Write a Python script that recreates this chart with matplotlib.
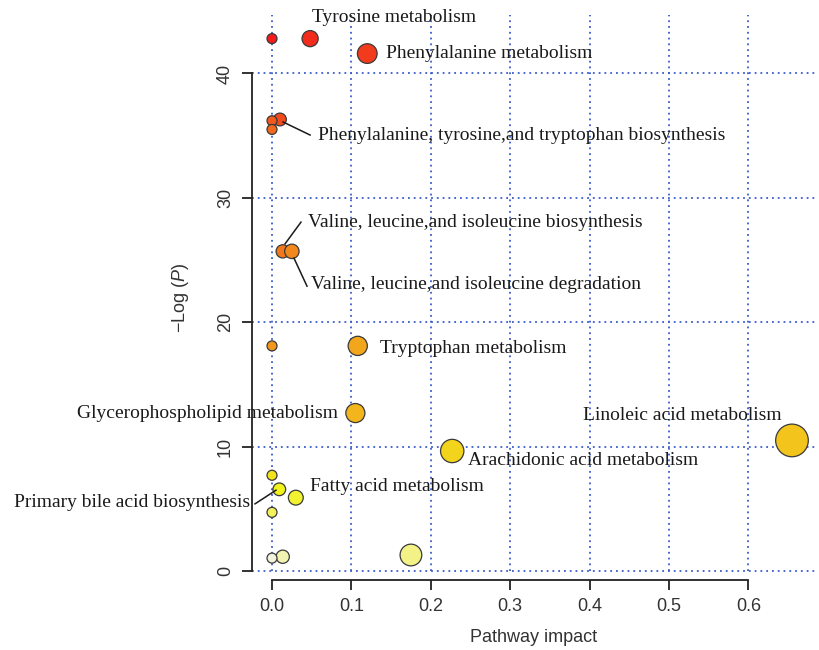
import colorsys

import numpy as np
import matplotlib
matplotlib.use("Agg")
from matplotlib import pyplot as plt

plt.rcParams["font.family"] = ["Liberation Sans", "DejaVu Sans"]
plt.rcParams["mathtext.fontset"] = "custom"
plt.rcParams["mathtext.rm"] = "Liberation Sans"
plt.rcParams["mathtext.it"] = "Liberation Sans:italic"

# pathway impact / -log(p) for every pathway, ordered by p value
impact = [0.0, 0.048, 0.120, 0.010, 0.0, 0.0, 0.0135, 0.025, 0.0, 0.108,
          0.105, 0.655, 0.227, 0.0, 0.0092, 0.030, 0.0, 0.175, 0.0135, 0.0]
neg_log_p = [42.8, 42.8, 41.6, 36.3, 36.2, 35.5, 25.7, 25.7, 18.1, 18.1,
             12.7, 10.5, 9.65, 7.7, 6.57, 5.9, 4.72, 1.29, 1.15, 1.04]
names = ["", "Tyrosine metabolism", "Phenylalanine metabolism",
         "Phenylalanine, tyrosine,and tryptophan biosynthesis", "", "",
         "Valine, leucine,and isoleucine biosynthesis",
         "Valine, leucine,and isoleucine degradation", "",
         "Tryptophan metabolism", "Glycerophospholipid metabolism",
         "Linoleic acid metabolism", "Arachidonic acid metabolism", "",
         "Primary bile acid biosynthesis", "Fatty acid metabolism",
         "", "", "", ""]

x_ticks = [0.0, 0.1, 0.2, 0.3, 0.4, 0.5, 0.6]
y_ticks = [0, 10, 20, 30, 40]

# label placement (data coords): x, y, horizontal alignment
label_pos = {
    "Tyrosine metabolism": (0.050, 44.5, "left"),
    "Phenylalanine metabolism": (0.143, 41.6, "left"),
    "Phenylalanine, tyrosine,and tryptophan biosynthesis": (0.058, 35.0, "left"),
    "Valine, leucine,and isoleucine biosynthesis": (0.045, 28.0, "left"),
    "Valine, leucine,and isoleucine degradation": (0.049, 23.0, "left"),
    "Tryptophan metabolism": (0.136, 17.9, "left"),
    "Glycerophospholipid metabolism": (0.083, 12.7, "right"),
    "Linoleic acid metabolism": (0.642, 12.5, "right"),
    "Arachidonic acid metabolism": (0.247, 8.9, "left"),
    "Fatty acid metabolism": (0.048, 6.8, "left"),
    "Primary bile acid biosynthesis": (-0.028, 5.5, "right"),
}
# leader lines ((x0, y0), (x1, y1))
leaders = [
    ((0.0139, 36.1), (0.048, 35.05)),
    ((0.0164, 26.3), (0.0365, 28.05)),
    ((0.0277, 25.15), (0.0441, 22.9)),
    ((-0.0214, 5.4), (0.005, 6.5)),
]


def heat_colors(n):
    # same scheme as R's heat.colors
    j = n // 4
    i = n - j
    cols = [colorsys.hsv_to_rgb(k / (i - 1) / 6, 1, 1) for k in range(i)]
    for s in np.linspace(1 - 1 / (2 * j), 1 / (2 * j), j):
        cols.append(colorsys.hsv_to_rgb(1 / 6, s, 1))
    return [tuple(0.84 * c + 0.11 for c in col) for col in cols]


order = np.argsort(-np.array(neg_log_p), kind="stable")
palette = heat_colors(len(neg_log_p))
colors = [None] * len(neg_log_p)
for rank, idx in enumerate(order):
    colors[idx] = palette[rank]

radius_px = 5 + 14 * np.sqrt(np.array(impact))
sizes = (2 * radius_px * 0.72) ** 2

fig = plt.figure(figsize=(8.19, 6.5), dpi=100)
ax = fig.add_axes([252 / 819, 70 / 650, 563 / 819, 565 / 650])
ax.set_xlim(-0.0252, 0.684)
ax.set_ylim(-0.72, 44.7)

grid_kw = dict(color="#3a5ccc", lw=1.3, linestyle=(0, (1, 2.2)), zorder=1)
ax.vlines(x_ticks, 0, 44.7, **grid_kw)
ax.hlines(y_ticks, -0.0252, 0.684, **grid_kw)

ax.scatter(impact, neg_log_p, s=sizes, c=colors, edgecolors="#3a3a3a",
           linewidths=0.9, zorder=3)

for name, (tx, ty, ha) in label_pos.items():
    ax.text(tx, ty, name, ha=ha, va="center", fontsize=14,
            family=["Liberation Serif"], color="#1a1a1a", zorder=4,
            clip_on=False)
for (x0, y0), (x1, y1) in leaders:
    ax.plot([x0, x1], [y0, y1], color="#1a1a1a", lw=1.1, clip_on=False,
            zorder=4)

for side in ["top", "right"]:
    ax.spines[side].set_visible(False)
ax.spines["left"].set_bounds(0, 40)
ax.spines["bottom"].set_bounds(0, 0.6)
for side in ["left", "bottom"]:
    ax.spines[side].set_linewidth(1.3)
    ax.spines[side].set_color("#222222")

ax.set_xticks(x_ticks)
ax.set_xticklabels(["%.1f" % v for v in x_ticks])
ax.set_yticks(y_ticks)
ax.set_yticklabels([str(v) for v in y_ticks], rotation=90, va="center")
ax.tick_params(axis="both", length=7, width=1.3, color="#222222",
               labelsize=13, labelcolor="#333333")
ax.tick_params(axis="x", pad=6)
ax.tick_params(axis="y", pad=6)

ax.set_xlabel("Pathway impact", fontsize=13, color="#333333", labelpad=10)
ax.set_ylabel("$-$Log ($\\it{P}$)", fontsize=13, color="#333333", labelpad=19)

fig.savefig("out.png", dpi=100)
